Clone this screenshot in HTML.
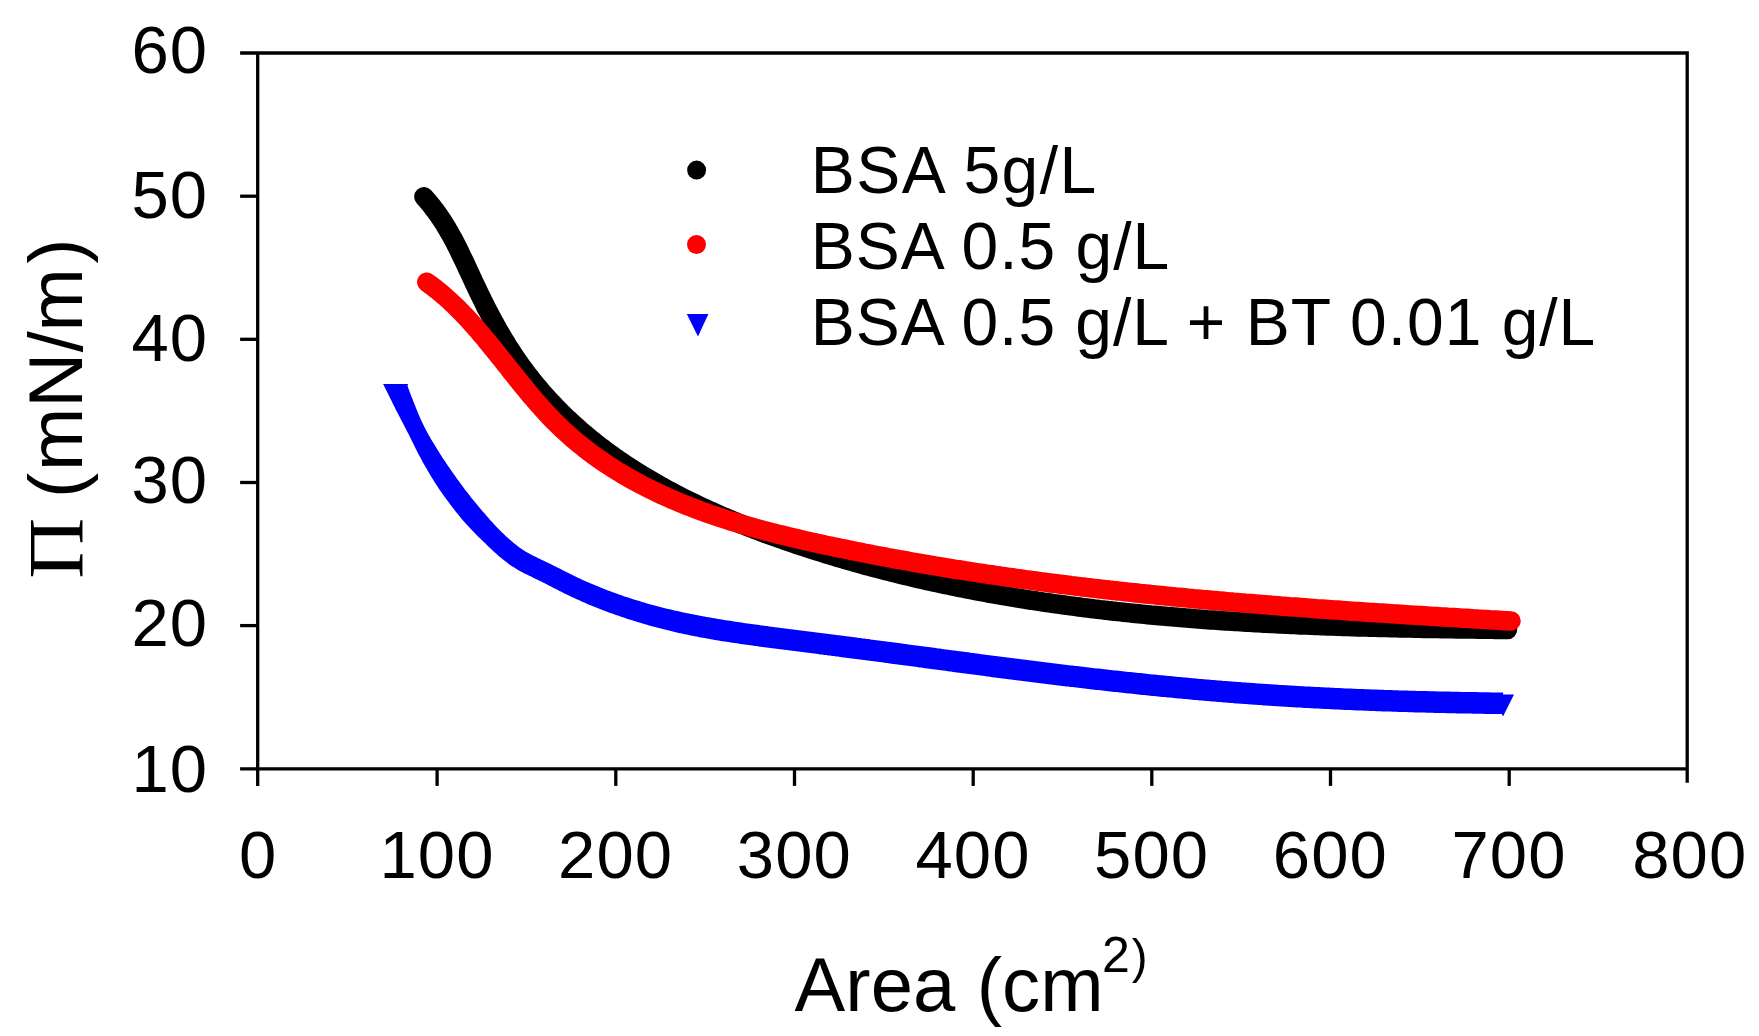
<!DOCTYPE html>
<html lang="en"><head><meta charset="utf-8"><title>Surface pressure vs area</title>
<style>html,body{margin:0;padding:0;background:#fff}body{width:1759px;height:1036px;overflow:hidden}svg{display:block}</style></head>
<body>
<svg width="1759" height="1036" viewBox="0 0 1759 1036">
<rect width="1759" height="1036" fill="#fff"/>
<filter id="soft" x="0" y="0" width="1759" height="1036" filterUnits="userSpaceOnUse"><feGaussianBlur stdDeviation="0.7"/></filter>
<g filter="url(#soft)">
<polyline points="423.9,196.8 425.9,199.0 427.9,201.3 429.8,203.6 431.7,205.9 433.5,208.3 435.3,210.7 437.1,213.1 438.8,215.6 440.5,218.1 442.2,220.6 443.8,223.1 445.4,225.6 446.9,228.2 448.5,230.8 450.0,233.4 451.4,236.0 452.9,238.6 454.3,241.3 455.7,243.9 457.0,246.6 458.4,249.3 459.7,252.0 461.0,254.7 462.3,257.4 463.6,260.1 464.9,262.8 466.2,265.5 467.4,268.3 468.7,271.0 470.0,273.7 471.2,276.4 472.5,279.2 473.7,281.9 475.0,284.6 476.3,287.3 477.6,290.0 478.9,292.7 480.2,295.4 481.5,298.1 482.8,300.8 484.2,303.5 485.5,306.2 486.9,308.9 488.3,311.5 489.7,314.2 491.1,316.8 492.5,319.5 493.9,322.1 495.4,324.7 496.8,327.4 498.3,330.0 499.8,332.6 501.3,335.2 502.8,337.7 504.4,340.3 506.0,342.9 507.5,345.4 509.1,348.0 510.8,350.5 512.4,353.0 514.0,355.5 515.7,358.0 517.4,360.5 519.1,362.9 520.9,365.4 522.6,367.8 524.4,370.2 526.2,372.6 528.0,375.0 529.9,377.4 531.7,379.7 533.6,382.1 535.5,384.4 537.4,386.7 539.4,389.0 541.3,391.3 543.3,393.6 545.3,395.8 547.3,398.0 549.3,400.2 551.4,402.4 553.4,404.6 555.5,406.8 557.6,408.9 559.7,411.1 561.8,413.2 564.0,415.3 566.1,417.4 568.3,419.4 570.5,421.5 572.7,423.5 575.0,425.5 577.2,427.5 579.4,429.5 581.7,431.5 584.0,433.4 586.3,435.3 588.6,437.3 590.9,439.2 593.3,441.0 595.6,442.9 598.0,444.8 600.3,446.6 602.7,448.4 605.1,450.2 607.5,452.0 610.0,453.8 612.4,455.5 614.9,457.3 617.3,459.0 619.8,460.7 622.3,462.4 624.7,464.1 627.2,465.7 629.8,467.4 632.3,469.0 634.8,470.6 637.3,472.2 639.9,473.8 642.4,475.4 645.0,476.9 647.6,478.5 650.2,480.0 652.8,481.5 655.4,483.0 658.0,484.5 660.6,486.0 663.2,487.4 665.8,488.9 668.5,490.3 671.1,491.7 673.8,493.1 676.4,494.5 679.1,495.9 681.8,497.3 684.4,498.6 687.1,500.0 689.8,501.3 692.5,502.6 695.2,503.9 697.9,505.2 700.6,506.5 703.4,507.8 706.1,509.0 708.8,510.3 711.5,511.5 714.3,512.7 717.0,513.9 719.8,515.1 722.5,516.3 725.3,517.5 728.1,518.7 730.8,519.9 733.6,521.0 736.4,522.1 739.1,523.3 741.9,524.4 744.7,525.5 747.5,526.6 750.3,527.7 753.1,528.8 755.9,529.9 758.7,530.9 761.5,532.0 764.3,533.0 767.2,534.1 770.0,535.1 772.8,536.1 775.6,537.1 778.4,538.1 781.3,539.1 784.1,540.1 786.9,541.1 789.8,542.1 792.6,543.0 795.5,544.0 798.3,545.0 801.2,545.9 804.0,546.8 806.9,547.8 809.7,548.7 812.6,549.6 815.4,550.5 818.3,551.4 821.2,552.3 824.0,553.2 826.9,554.1 829.8,555.0 832.6,555.8 835.5,556.7 838.4,557.6 841.3,558.4 844.2,559.3 847.0,560.1 849.9,560.9 852.8,561.7 855.7,562.6 858.6,563.4 861.5,564.2 864.4,565.0 867.3,565.8 870.2,566.5 873.1,567.3 876.0,568.1 878.9,568.8 881.8,569.6 884.7,570.4 887.6,571.1 890.5,571.8 893.4,572.6 896.3,573.3 899.2,574.0 902.1,574.7 905.1,575.4 908.0,576.1 910.9,576.8 913.8,577.5 916.7,578.2 919.7,578.9 922.6,579.5 925.5,580.2 928.4,580.9 931.4,581.5 934.3,582.2 937.2,582.8 940.2,583.4 943.1,584.1 946.0,584.7 949.0,585.3 951.9,585.9 954.9,586.5 957.8,587.1 960.7,587.7 963.7,588.3 966.6,588.9 969.6,589.4 972.5,590.0 975.5,590.6 978.4,591.1 981.4,591.7 984.3,592.2 987.3,592.8 990.2,593.3 993.2,593.8 996.1,594.4 999.1,594.9 1002.0,595.4 1005.0,595.9 1008.0,596.4 1010.9,596.9 1013.9,597.4 1016.8,597.9 1019.8,598.4 1022.8,598.9 1025.7,599.3 1028.7,599.8 1031.7,600.3 1034.6,600.7 1037.6,601.2 1040.6,601.6 1043.5,602.1 1046.5,602.5 1049.5,602.9 1052.4,603.4 1055.4,603.8 1058.4,604.2 1061.3,604.6 1064.3,605.0 1067.3,605.4 1070.3,605.8 1073.2,606.2 1076.2,606.6 1079.2,607.0 1082.2,607.4 1085.1,607.8 1088.1,608.1 1091.1,608.5 1094.1,608.9 1097.1,609.2 1100.0,609.6 1103.0,609.9 1106.0,610.3 1109.0,610.6 1112.0,611.0 1114.9,611.3 1117.9,611.6 1120.9,611.9 1123.9,612.3 1126.9,612.6 1129.9,612.9 1132.9,613.2 1135.8,613.5 1138.8,613.8 1141.8,614.1 1144.8,614.4 1147.8,614.7 1150.8,615.0 1153.8,615.2 1156.8,615.5 1159.7,615.8 1162.7,616.1 1165.7,616.3 1168.7,616.6 1171.7,616.8 1174.7,617.1 1177.7,617.3 1180.7,617.6 1183.7,617.8 1186.7,618.1 1189.6,618.3 1192.6,618.5 1195.6,618.8 1198.6,619.0 1201.6,619.2 1204.6,619.4 1207.6,619.7 1210.6,619.9 1213.6,620.1 1216.6,620.3 1219.6,620.5 1222.6,620.7 1225.6,620.9 1228.6,621.1 1231.6,621.3 1234.6,621.4 1237.5,621.6 1240.5,621.8 1243.5,622.0 1246.5,622.2 1249.5,622.3 1252.5,622.5 1255.5,622.7 1258.5,622.8 1261.5,623.0 1264.5,623.2 1267.5,623.3 1270.5,623.5 1273.5,623.6 1276.5,623.8 1279.5,623.9 1282.5,624.1 1285.5,624.2 1288.5,624.3 1291.5,624.5 1294.5,624.6 1297.5,624.7 1300.5,624.9 1303.5,625.0 1306.5,625.1 1309.5,625.2 1312.5,625.3 1315.5,625.5 1318.5,625.6 1321.5,625.7 1324.5,625.8 1327.5,625.9 1330.5,626.0 1333.5,626.1 1336.5,626.2 1339.5,626.3 1342.5,626.4 1345.5,626.5 1348.5,626.6 1351.5,626.7 1354.5,626.8 1357.5,626.9 1360.5,626.9 1363.5,627.0 1366.5,627.1 1369.5,627.2 1372.5,627.3 1375.5,627.3 1378.5,627.4 1381.5,627.5 1384.5,627.6 1387.5,627.6 1390.5,627.7 1393.5,627.8 1396.5,627.8 1399.5,627.9 1402.5,628.0 1405.5,628.0 1408.5,628.1 1411.5,628.1 1414.5,628.2 1417.5,628.3 1420.5,628.3 1423.5,628.4 1426.5,628.4 1429.5,628.5 1432.5,628.5 1435.5,628.6 1438.5,628.6 1441.5,628.7 1444.5,628.7 1447.5,628.8 1450.5,628.8 1453.5,628.8 1456.5,628.9 1459.5,628.9 1462.5,629.0 1465.5,629.0 1468.5,629.0 1471.5,629.1 1474.5,629.1 1477.5,629.2 1480.5,629.2 1483.5,629.2 1486.5,629.3 1489.5,629.3 1492.5,629.3 1495.5,629.4 1498.5,629.4 1501.5,629.4 1504.5,629.5 1507.5,629.5" fill="none" stroke="#000" stroke-width="19.5" stroke-linecap="round" stroke-linejoin="round"/>
<polyline points="426.8,282.2 429.2,284.0 431.6,285.7 434.0,287.6 436.4,289.4 438.7,291.3 441.0,293.2 443.3,295.2 445.6,297.1 447.8,299.1 450.0,301.1 452.2,303.2 454.4,305.3 456.6,307.4 458.7,309.5 460.8,311.6 462.9,313.8 465.0,315.9 467.0,318.1 469.0,320.3 471.1,322.5 473.1,324.8 475.1,327.0 477.0,329.3 479.0,331.5 480.9,333.8 482.9,336.1 484.8,338.4 486.7,340.7 488.6,343.0 490.5,345.4 492.4,347.7 494.3,350.0 496.2,352.4 498.1,354.7 499.9,357.1 501.8,359.4 503.7,361.7 505.5,364.1 507.4,366.4 509.3,368.8 511.1,371.2 513.0,373.5 514.9,375.8 516.7,378.2 518.6,380.5 520.5,382.9 522.4,385.2 524.3,387.5 526.2,389.8 528.1,392.2 530.0,394.5 532.0,396.8 533.9,399.0 535.9,401.3 537.8,403.6 539.8,405.8 541.8,408.1 543.8,410.3 545.8,412.5 547.9,414.7 549.9,416.9 552.0,419.0 554.1,421.2 556.3,423.3 558.4,425.4 560.6,427.5 562.7,429.6 564.9,431.6 567.2,433.6 569.4,435.6 571.6,437.6 573.9,439.6 576.2,441.5 578.5,443.4 580.8,445.3 583.2,447.2 585.5,449.0 587.9,450.9 590.3,452.7 592.7,454.5 595.1,456.2 597.6,458.0 600.0,459.7 602.5,461.4 605.0,463.1 607.5,464.8 610.0,466.4 612.5,468.0 615.0,469.6 617.6,471.2 620.2,472.8 622.7,474.3 625.3,475.9 627.9,477.4 630.5,478.8 633.1,480.3 635.8,481.8 638.4,483.2 641.1,484.6 643.7,486.0 646.4,487.3 649.1,488.7 651.8,490.0 654.5,491.3 657.2,492.6 659.9,493.9 662.6,495.2 665.3,496.4 668.1,497.6 670.8,498.8 673.6,500.0 676.3,501.2 679.1,502.4 681.9,503.5 684.7,504.6 687.4,505.7 690.2,506.8 693.0,507.9 695.8,509.0 698.7,510.0 701.5,511.1 704.3,512.1 707.1,513.1 709.9,514.1 712.8,515.1 715.6,516.0 718.5,517.0 721.3,517.9 724.2,518.9 727.0,519.8 729.9,520.7 732.8,521.6 735.6,522.4 738.5,523.3 741.4,524.2 744.2,525.0 747.1,525.9 750.0,526.7 752.9,527.5 755.8,528.3 758.7,529.1 761.6,529.9 764.5,530.7 767.4,531.4 770.3,532.2 773.2,532.9 776.1,533.7 779.0,534.4 781.9,535.1 784.8,535.8 787.7,536.5 790.7,537.3 793.6,537.9 796.5,538.6 799.4,539.3 802.4,540.0 805.3,540.7 808.2,541.3 811.1,542.0 814.1,542.6 817.0,543.3 819.9,543.9 822.9,544.5 825.8,545.2 828.7,545.8 831.7,546.4 834.6,547.0 837.5,547.6 840.5,548.2 843.4,548.8 846.4,549.4 849.3,550.0 852.2,550.6 855.2,551.2 858.1,551.8 861.1,552.4 864.0,553.0 866.9,553.5 869.9,554.1 872.8,554.7 875.8,555.3 878.7,555.8 881.7,556.4 884.6,556.9 887.6,557.5 890.5,558.0 893.5,558.6 896.4,559.1 899.4,559.7 902.3,560.2 905.3,560.7 908.2,561.2 911.2,561.8 914.2,562.3 917.1,562.8 920.1,563.3 923.0,563.8 926.0,564.3 928.9,564.9 931.9,565.4 934.9,565.9 937.8,566.3 940.8,566.8 943.7,567.3 946.7,567.8 949.7,568.3 952.6,568.8 955.6,569.3 958.5,569.7 961.5,570.2 964.5,570.7 967.4,571.1 970.4,571.6 973.4,572.0 976.3,572.5 979.3,573.0 982.3,573.4 985.2,573.9 988.2,574.3 991.2,574.7 994.1,575.2 997.1,575.6 1000.1,576.0 1003.0,576.5 1006.0,576.9 1009.0,577.3 1011.9,577.7 1014.9,578.2 1017.9,578.6 1020.9,579.0 1023.8,579.4 1026.8,579.8 1029.8,580.2 1032.8,580.6 1035.7,581.0 1038.7,581.4 1041.7,581.8 1044.7,582.2 1047.6,582.6 1050.6,583.0 1053.6,583.3 1056.6,583.7 1059.5,584.1 1062.5,584.5 1065.5,584.8 1068.5,585.2 1071.4,585.6 1074.4,585.9 1077.4,586.3 1080.4,586.7 1083.4,587.0 1086.3,587.4 1089.3,587.7 1092.3,588.1 1095.3,588.4 1098.3,588.8 1101.2,589.1 1104.2,589.5 1107.2,589.8 1110.2,590.1 1113.2,590.5 1116.1,590.8 1119.1,591.1 1122.1,591.4 1125.1,591.8 1128.1,592.1 1131.1,592.4 1134.0,592.7 1137.0,593.0 1140.0,593.4 1143.0,593.7 1146.0,594.0 1149.0,594.3 1151.9,594.6 1154.9,594.9 1157.9,595.2 1160.9,595.5 1163.9,595.8 1166.9,596.1 1169.9,596.4 1172.8,596.7 1175.8,597.0 1178.8,597.2 1181.8,597.5 1184.8,597.8 1187.8,598.1 1190.8,598.4 1193.8,598.7 1196.7,598.9 1199.7,599.2 1202.7,599.5 1205.7,599.7 1208.7,600.0 1211.7,600.3 1214.7,600.5 1217.7,600.8 1220.7,601.1 1223.6,601.3 1226.6,601.6 1229.6,601.9 1232.6,602.1 1235.6,602.4 1238.6,602.6 1241.6,602.9 1244.6,603.1 1247.6,603.4 1250.6,603.6 1253.5,603.8 1256.5,604.1 1259.5,604.3 1262.5,604.6 1265.5,604.8 1268.5,605.0 1271.5,605.3 1274.5,605.5 1277.5,605.7 1280.5,606.0 1283.5,606.2 1286.4,606.4 1289.4,606.7 1292.4,606.9 1295.4,607.1 1298.4,607.3 1301.4,607.6 1304.4,607.8 1307.4,608.0 1310.4,608.2 1313.4,608.4 1316.4,608.7 1319.4,608.9 1322.4,609.1 1325.3,609.3 1328.3,609.5 1331.3,609.7 1334.3,609.9 1337.3,610.1 1340.3,610.3 1343.3,610.6 1346.3,610.8 1349.3,611.0 1352.3,611.2 1355.3,611.4 1358.3,611.6 1361.3,611.8 1364.3,612.0 1367.3,612.2 1370.2,612.4 1373.2,612.6 1376.2,612.8 1379.2,613.0 1382.2,613.1 1385.2,613.3 1388.2,613.5 1391.2,613.7 1394.2,613.9 1397.2,614.1 1400.2,614.3 1403.2,614.5 1406.2,614.7 1409.2,614.9 1412.2,615.1 1415.2,615.2 1418.2,615.4 1421.1,615.6 1424.1,615.8 1427.1,616.0 1430.1,616.2 1433.1,616.4 1436.1,616.5 1439.1,616.7 1442.1,616.9 1445.1,617.1 1448.1,617.3 1451.1,617.4 1454.1,617.6 1457.1,617.8 1460.1,618.0 1463.1,618.2 1466.1,618.3 1469.1,618.5 1472.1,618.7 1475.1,618.9 1478.1,619.1 1481.0,619.2 1484.0,619.4 1487.0,619.6 1490.0,619.8 1493.0,619.9 1496.0,620.1 1499.0,620.3 1502.0,620.5 1505.0,620.7 1508.0,620.8 1511.0,621.0" fill="none" stroke="#ff0000" stroke-width="19.5" stroke-linecap="round" stroke-linejoin="round"/>
<clipPath id="bc"><rect x="300" y="384.1" width="1300" height="400"/></clipPath>
<polygon clip-path="url(#bc)" fill="#0000ff" points="401.1,370.0 401.9,371.9 402.7,373.7 403.4,375.5 404.2,377.4 404.9,379.2 405.7,381.0 406.4,382.9 407.1,384.8 407.8,386.6 408.4,388.5 409.1,390.3 409.8,392.2 410.5,394.1 411.2,395.9 412.0,397.8 412.7,399.6 413.4,401.4 414.1,403.3 414.8,405.1 415.6,407.0 416.3,408.8 417.0,410.6 417.8,412.5 418.5,414.3 419.3,416.1 420.1,417.9 420.9,419.7 421.8,421.5 422.6,423.3 423.5,425.0 424.3,426.8 425.2,428.6 426.1,430.3 427.0,432.1 428.0,433.8 429.0,435.5 430.0,437.2 430.9,438.9 431.9,440.6 432.9,442.3 434.0,443.9 435.0,445.6 436.0,447.3 437.0,449.0 438.0,450.6 439.1,452.3 440.1,453.9 441.2,455.6 442.2,457.2 443.3,458.9 444.4,460.5 445.5,462.1 446.6,463.8 447.7,465.4 448.8,467.0 449.9,468.6 451.0,470.2 452.1,471.8 453.3,473.4 454.4,475.0 455.5,476.6 456.6,478.2 457.8,479.8 458.9,481.3 460.1,482.9 461.2,484.5 462.4,486.1 463.5,487.6 464.7,489.2 465.9,490.7 467.1,492.3 468.3,493.8 469.5,495.3 470.7,496.9 471.9,498.4 473.2,499.9 474.4,501.4 475.7,502.9 476.9,504.4 478.2,505.9 479.4,507.4 480.6,508.9 481.9,510.4 483.1,511.9 484.4,513.3 485.7,514.8 486.9,516.3 488.2,517.7 489.5,519.2 490.8,520.7 492.1,522.1 493.4,523.5 494.8,525.0 496.1,526.4 497.4,527.8 498.8,529.2 500.1,530.6 501.5,532.0 502.9,533.3 504.3,534.6 505.7,536.0 507.1,537.3 508.6,538.5 510.0,539.8 511.4,541.0 512.9,542.3 514.3,543.5 515.7,544.6 517.2,545.7 518.7,546.9 520.2,547.9 521.7,549.0 523.2,550.0 524.7,551.0 526.2,551.9 527.8,552.8 529.4,553.7 531.0,554.6 532.6,555.4 534.3,556.3 536.1,557.1 537.8,558.0 539.6,558.8 541.4,559.7 543.2,560.5 545.1,561.4 546.9,562.3 548.7,563.2 550.6,564.1 552.4,565.0 554.2,565.9 556.0,566.8 557.8,567.7 559.6,568.6 561.4,569.5 563.2,570.4 564.9,571.3 566.7,572.2 568.5,573.1 570.2,574.0 572.0,574.8 573.8,575.7 575.5,576.6 577.3,577.4 579.1,578.2 580.8,579.0 582.6,579.9 584.4,580.7 586.2,581.5 588.0,582.3 589.8,583.0 591.5,583.8 593.3,584.6 595.2,585.3 597.0,586.1 598.8,586.8 600.6,587.6 602.4,588.3 604.2,589.0 606.1,589.7 607.9,590.4 609.7,591.1 611.5,591.8 613.4,592.5 615.2,593.1 617.1,593.8 618.9,594.5 620.8,595.1 622.6,595.8 624.5,596.4 626.3,597.0 628.2,597.6 630.1,598.2 631.9,598.8 633.8,599.4 635.7,600.0 637.6,600.6 639.4,601.1 641.3,601.7 643.2,602.3 645.1,602.8 647.0,603.4 648.9,603.9 650.7,604.4 652.6,604.9 654.5,605.5 656.4,606.0 658.3,606.5 660.2,607.0 662.1,607.4 664.0,607.9 666.0,608.4 667.9,608.9 669.8,609.3 671.7,609.8 673.6,610.2 675.5,610.7 677.4,611.1 679.4,611.5 681.3,611.9 683.2,612.4 685.1,612.8 687.1,613.2 689.0,613.6 690.9,614.0 692.8,614.3 694.8,614.7 696.7,615.1 698.7,615.5 700.6,615.8 702.5,616.2 704.5,616.5 706.4,616.9 708.4,617.3 710.3,617.6 712.3,617.9 714.2,618.3 716.1,618.6 718.1,618.9 720.1,619.3 722.0,619.6 724.0,619.9 725.9,620.2 727.9,620.5 729.8,620.8 731.8,621.1 733.8,621.4 735.7,621.7 737.7,622.0 739.6,622.3 741.6,622.6 743.6,622.9 745.5,623.2 747.5,623.5 749.5,623.7 751.5,624.0 753.4,624.3 755.4,624.6 757.4,624.8 759.3,625.1 761.3,625.4 763.3,625.6 765.3,625.9 767.2,626.1 769.2,626.4 771.2,626.7 773.2,626.9 775.2,627.2 777.2,627.4 779.1,627.7 781.1,627.9 783.1,628.2 785.1,628.5 787.1,628.7 789.1,629.0 791.0,629.2 793.0,629.5 795.0,629.7 797.0,630.0 799.0,630.2 801.0,630.5 802.9,630.7 804.9,631.0 806.9,631.2 808.9,631.5 810.9,631.7 812.9,632.0 814.9,632.3 816.8,632.5 818.8,632.8 820.8,633.0 822.8,633.3 824.8,633.5 826.8,633.8 828.8,634.0 830.8,634.3 832.7,634.5 834.7,634.8 836.7,635.0 838.7,635.3 840.7,635.5 842.7,635.8 844.7,636.1 846.7,636.3 848.6,636.6 850.6,636.8 852.6,637.1 854.6,637.3 856.6,637.6 858.6,637.9 860.6,638.1 862.6,638.4 864.5,638.6 866.5,638.9 868.5,639.1 870.5,639.4 872.5,639.7 874.5,639.9 876.5,640.2 878.5,640.5 880.4,640.7 882.4,641.0 884.4,641.2 886.4,641.5 888.4,641.8 890.4,642.0 892.4,642.3 894.3,642.6 896.3,642.8 898.3,643.1 900.3,643.3 902.3,643.6 904.3,643.9 906.3,644.1 908.2,644.4 910.2,644.7 912.2,644.9 914.2,645.2 916.2,645.5 918.2,645.7 920.1,646.0 922.1,646.3 924.1,646.5 926.1,646.8 928.1,647.1 930.1,647.3 932.1,647.6 934.0,647.8 936.0,648.1 938.0,648.4 940.0,648.6 942.0,648.9 944.0,649.2 945.9,649.4 947.9,649.7 949.9,650.0 951.9,650.2 953.9,650.5 955.9,650.8 957.8,651.0 959.8,651.3 961.8,651.5 963.8,651.8 965.8,652.1 967.8,652.3 969.7,652.6 971.7,652.9 973.7,653.1 975.7,653.4 977.7,653.6 979.7,653.9 981.6,654.2 983.6,654.4 985.6,654.7 987.6,654.9 989.6,655.2 991.6,655.5 993.5,655.7 995.5,656.0 997.5,656.2 999.5,656.5 1001.5,656.8 1003.5,657.0 1005.4,657.3 1007.4,657.5 1009.4,657.8 1011.4,658.0 1013.4,658.3 1015.4,658.5 1017.3,658.8 1019.3,659.0 1021.3,659.3 1023.3,659.6 1025.3,659.8 1027.3,660.1 1029.2,660.3 1031.2,660.6 1033.2,660.8 1035.2,661.0 1037.2,661.3 1039.2,661.5 1041.1,661.8 1043.1,662.0 1045.1,662.3 1047.1,662.5 1049.1,662.8 1051.1,663.0 1053.0,663.3 1055.0,663.5 1057.0,663.7 1059.0,664.0 1061.0,664.2 1063.0,664.5 1065.0,664.7 1066.9,664.9 1068.9,665.2 1070.9,665.4 1072.9,665.6 1074.9,665.9 1076.9,666.1 1078.8,666.3 1080.8,666.6 1082.8,666.8 1084.8,667.0 1086.8,667.3 1088.8,667.5 1090.7,667.7 1092.7,667.9 1094.7,668.2 1096.7,668.4 1098.7,668.6 1100.7,668.8 1102.7,669.1 1104.6,669.3 1106.6,669.5 1108.6,669.7 1110.6,670.0 1112.6,670.2 1114.6,670.4 1116.6,670.6 1118.5,670.8 1120.5,671.0 1122.5,671.3 1124.5,671.5 1126.5,671.7 1128.5,671.9 1130.5,672.1 1132.4,672.3 1134.4,672.5 1136.4,672.7 1138.4,672.9 1140.4,673.1 1142.4,673.3 1144.4,673.6 1146.3,673.8 1148.3,674.0 1150.3,674.2 1152.3,674.4 1154.3,674.6 1156.3,674.8 1158.3,675.0 1160.3,675.2 1162.2,675.3 1164.2,675.5 1166.2,675.7 1168.2,675.9 1170.2,676.1 1172.2,676.3 1174.2,676.5 1176.2,676.7 1178.1,676.9 1180.1,677.1 1182.1,677.2 1184.1,677.4 1186.1,677.6 1188.1,677.8 1190.1,678.0 1192.1,678.2 1194.0,678.3 1196.0,678.5 1198.0,678.7 1200.0,678.9 1202.0,679.0 1204.0,679.2 1206.0,679.4 1208.0,679.5 1210.0,679.7 1211.9,679.9 1213.9,680.1 1215.9,680.2 1217.9,680.4 1219.9,680.5 1221.9,680.7 1223.9,680.9 1225.9,681.0 1227.9,681.2 1229.8,681.3 1231.8,681.5 1233.8,681.7 1235.8,681.8 1237.8,682.0 1239.8,682.1 1241.8,682.3 1243.8,682.4 1245.8,682.6 1247.7,682.7 1249.7,682.8 1251.7,683.0 1253.7,683.1 1255.7,683.3 1257.7,683.4 1259.7,683.5 1261.7,683.7 1263.7,683.8 1265.7,684.0 1267.6,684.1 1269.6,684.2 1271.6,684.3 1273.6,684.5 1275.6,684.6 1277.6,684.7 1279.6,684.9 1281.6,685.0 1283.6,685.1 1285.6,685.2 1287.6,685.3 1289.6,685.5 1291.5,685.6 1293.5,685.7 1295.5,685.8 1297.5,685.9 1299.5,686.0 1301.5,686.2 1303.5,686.3 1305.5,686.4 1307.5,686.5 1309.5,686.6 1311.5,686.7 1313.5,686.8 1315.5,686.9 1317.5,687.0 1319.4,687.1 1321.4,687.2 1323.4,687.3 1325.4,687.4 1327.4,687.5 1329.4,687.6 1331.4,687.7 1333.4,687.8 1335.4,687.9 1337.4,688.0 1339.4,688.1 1341.4,688.2 1343.4,688.3 1345.4,688.4 1347.4,688.4 1349.4,688.5 1351.4,688.6 1353.4,688.7 1355.3,688.8 1357.3,688.9 1359.3,688.9 1361.3,689.0 1363.3,689.1 1365.3,689.2 1367.3,689.3 1369.3,689.3 1371.3,689.4 1373.3,689.5 1375.3,689.6 1377.3,689.6 1379.3,689.7 1381.3,689.8 1383.3,689.8 1385.3,689.9 1387.3,690.0 1389.3,690.0 1391.3,690.1 1393.3,690.2 1395.3,690.2 1397.3,690.3 1399.3,690.4 1401.2,690.4 1403.2,690.5 1405.2,690.5 1407.2,690.6 1409.2,690.7 1411.2,690.7 1413.2,690.8 1415.2,690.8 1417.2,690.9 1419.2,690.9 1421.2,691.0 1423.2,691.0 1425.2,691.1 1427.2,691.1 1429.2,691.2 1431.2,691.2 1433.2,691.3 1435.2,691.3 1437.2,691.4 1439.2,691.4 1441.2,691.5 1443.2,691.5 1445.2,691.6 1447.2,691.6 1449.2,691.6 1451.2,691.7 1453.2,691.7 1455.2,691.8 1457.2,691.8 1459.2,691.8 1461.2,691.9 1463.2,691.9 1465.2,691.9 1467.2,692.0 1469.2,692.0 1471.2,692.1 1473.2,692.1 1475.1,692.1 1477.1,692.1 1479.1,692.2 1481.1,692.2 1483.1,692.2 1485.1,692.3 1487.1,692.3 1489.1,692.3 1491.1,692.4 1493.1,692.4 1495.1,692.4 1497.1,692.4 1499.1,692.5 1501.1,692.5 1503.1,692.5 1502.9,714.1 1500.9,714.1 1498.9,714.1 1496.9,714.0 1494.9,714.0 1492.8,714.0 1490.8,713.9 1488.8,713.9 1486.8,713.9 1484.8,713.9 1482.8,713.8 1480.8,713.8 1478.8,713.8 1476.8,713.7 1474.8,713.7 1472.8,713.7 1470.8,713.6 1468.8,713.6 1466.8,713.6 1464.8,713.5 1462.8,713.5 1460.8,713.5 1458.8,713.4 1456.7,713.4 1454.7,713.3 1452.7,713.3 1450.7,713.3 1448.7,713.2 1446.7,713.2 1444.7,713.1 1442.7,713.1 1440.7,713.0 1438.7,713.0 1436.7,712.9 1434.7,712.9 1432.7,712.8 1430.7,712.8 1428.7,712.7 1426.7,712.7 1424.7,712.6 1422.6,712.6 1420.6,712.5 1418.6,712.5 1416.6,712.4 1414.6,712.4 1412.6,712.3 1410.6,712.3 1408.6,712.2 1406.6,712.1 1404.6,712.1 1402.6,712.0 1400.6,712.0 1398.6,711.9 1396.6,711.8 1394.6,711.8 1392.6,711.7 1390.6,711.6 1388.5,711.6 1386.5,711.5 1384.5,711.4 1382.5,711.4 1380.5,711.3 1378.5,711.2 1376.5,711.2 1374.5,711.1 1372.5,711.0 1370.5,710.9 1368.5,710.8 1366.5,710.8 1364.5,710.7 1362.5,710.6 1360.5,710.5 1358.5,710.5 1356.5,710.4 1354.4,710.3 1352.4,710.2 1350.4,710.1 1348.4,710.0 1346.4,709.9 1344.4,709.9 1342.4,709.8 1340.4,709.7 1338.4,709.6 1336.4,709.5 1334.4,709.4 1332.4,709.3 1330.4,709.2 1328.4,709.1 1326.4,709.0 1324.4,708.9 1322.4,708.8 1320.4,708.7 1318.3,708.6 1316.3,708.5 1314.3,708.4 1312.3,708.3 1310.3,708.2 1308.3,708.1 1306.3,708.0 1304.3,707.9 1302.3,707.7 1300.3,707.6 1298.3,707.5 1296.3,707.4 1294.3,707.3 1292.3,707.2 1290.3,707.0 1288.3,706.9 1286.3,706.8 1284.3,706.7 1282.3,706.6 1280.3,706.4 1278.2,706.3 1276.2,706.2 1274.2,706.1 1272.2,705.9 1270.2,705.8 1268.2,705.7 1266.2,705.5 1264.2,705.4 1262.2,705.3 1260.2,705.1 1258.2,705.0 1256.2,704.8 1254.2,704.7 1252.2,704.6 1250.2,704.4 1248.2,704.3 1246.2,704.1 1244.2,704.0 1242.2,703.8 1240.2,703.7 1238.2,703.5 1236.2,703.4 1234.2,703.2 1232.2,703.1 1230.2,702.9 1228.2,702.7 1226.1,702.6 1224.1,702.4 1222.1,702.3 1220.1,702.1 1218.1,701.9 1216.1,701.8 1214.1,701.6 1212.1,701.4 1210.1,701.3 1208.1,701.1 1206.1,700.9 1204.1,700.8 1202.1,700.6 1200.1,700.4 1198.1,700.2 1196.1,700.1 1194.1,699.9 1192.1,699.7 1190.1,699.5 1188.1,699.3 1186.1,699.1 1184.1,699.0 1182.1,698.8 1180.1,698.6 1178.1,698.4 1176.1,698.2 1174.1,698.0 1172.1,697.8 1170.1,697.6 1168.1,697.5 1166.1,697.3 1164.1,697.1 1162.1,696.9 1160.1,696.7 1158.1,696.5 1156.1,696.3 1154.2,696.1 1152.2,695.9 1150.2,695.7 1148.2,695.5 1146.2,695.3 1144.2,695.1 1142.2,694.9 1140.2,694.7 1138.2,694.4 1136.2,694.2 1134.2,694.0 1132.2,693.8 1130.2,693.6 1128.2,693.4 1126.2,693.2 1124.2,693.0 1122.2,692.8 1120.2,692.5 1118.2,692.3 1116.2,692.1 1114.2,691.9 1112.2,691.7 1110.2,691.4 1108.2,691.2 1106.2,691.0 1104.3,690.8 1102.3,690.6 1100.3,690.3 1098.3,690.1 1096.3,689.9 1094.3,689.7 1092.3,689.4 1090.3,689.2 1088.3,689.0 1086.3,688.7 1084.3,688.5 1082.3,688.3 1080.3,688.0 1078.3,687.8 1076.3,687.6 1074.4,687.3 1072.4,687.1 1070.4,686.9 1068.4,686.6 1066.4,686.4 1064.4,686.2 1062.4,685.9 1060.4,685.7 1058.4,685.4 1056.4,685.2 1054.4,685.0 1052.4,684.7 1050.5,684.5 1048.5,684.2 1046.5,684.0 1044.5,683.7 1042.5,683.5 1040.5,683.2 1038.5,683.0 1036.5,682.7 1034.5,682.5 1032.5,682.2 1030.6,682.0 1028.6,681.7 1026.6,681.5 1024.6,681.2 1022.6,681.0 1020.6,680.7 1018.6,680.5 1016.6,680.2 1014.6,680.0 1012.7,679.7 1010.7,679.5 1008.7,679.2 1006.7,679.0 1004.7,678.7 1002.7,678.4 1000.7,678.2 998.7,677.9 996.7,677.7 994.8,677.4 992.8,677.2 990.8,676.9 988.8,676.6 986.8,676.4 984.8,676.1 982.8,675.8 980.8,675.6 978.9,675.3 976.9,675.1 974.9,674.8 972.9,674.5 970.9,674.3 968.9,674.0 966.9,673.7 965.0,673.5 963.0,673.2 961.0,673.0 959.0,672.7 957.0,672.4 955.0,672.2 953.0,671.9 951.1,671.6 949.1,671.4 947.1,671.1 945.1,670.8 943.1,670.6 941.1,670.3 939.1,670.0 937.2,669.8 935.2,669.5 933.2,669.2 931.2,669.0 929.2,668.7 927.2,668.4 925.3,668.2 923.3,667.9 921.3,667.6 919.3,667.4 917.3,667.1 915.3,666.8 913.4,666.6 911.4,666.3 909.4,666.0 907.4,665.8 905.4,665.5 903.4,665.3 901.4,665.0 899.5,664.7 897.5,664.5 895.5,664.2 893.5,663.9 891.5,663.7 889.5,663.4 887.6,663.1 885.6,662.9 883.6,662.6 881.6,662.3 879.6,662.1 877.6,661.8 875.7,661.6 873.7,661.3 871.7,661.0 869.7,660.8 867.7,660.5 865.7,660.3 863.8,660.0 861.8,659.7 859.8,659.5 857.8,659.2 855.8,659.0 853.8,658.7 851.9,658.4 849.9,658.2 847.9,657.9 845.9,657.7 843.9,657.4 841.9,657.2 840.0,656.9 838.0,656.6 836.0,656.4 834.0,656.1 832.0,655.9 830.0,655.6 828.1,655.4 826.1,655.1 824.1,654.9 822.1,654.6 820.1,654.4 818.1,654.1 816.1,653.8 814.2,653.6 812.2,653.3 810.2,653.1 808.2,652.8 806.2,652.6 804.2,652.3 802.2,652.1 800.3,651.8 798.3,651.6 796.3,651.3 794.3,651.1 792.3,650.8 790.3,650.5 788.3,650.3 786.3,650.0 784.4,649.8 782.4,649.5 780.4,649.3 778.4,649.0 776.4,648.8 774.4,648.5 772.4,648.2 770.4,648.0 768.5,647.7 766.5,647.5 764.5,647.2 762.5,646.9 760.5,646.7 758.5,646.4 756.5,646.1 754.5,645.9 752.5,645.6 750.5,645.3 748.5,645.0 746.5,644.8 744.5,644.5 742.5,644.2 740.5,643.9 738.5,643.6 736.6,643.3 734.6,643.0 732.6,642.7 730.6,642.4 728.6,642.1 726.6,641.8 724.6,641.5 722.6,641.2 720.6,640.9 718.6,640.5 716.6,640.2 714.6,639.9 712.6,639.5 710.6,639.2 708.6,638.8 706.6,638.5 704.6,638.1 702.6,637.8 700.6,637.4 698.6,637.0 696.6,636.6 694.6,636.2 692.6,635.8 690.6,635.4 688.6,635.0 686.7,634.6 684.7,634.2 682.7,633.7 680.7,633.3 678.7,632.9 676.7,632.4 674.7,631.9 672.7,631.5 670.8,631.0 668.8,630.5 666.8,630.0 664.8,629.6 662.8,629.1 660.9,628.6 658.9,628.0 656.9,627.5 655.0,627.0 653.0,626.5 651.0,625.9 649.1,625.4 647.1,624.8 645.1,624.3 643.2,623.7 641.2,623.1 639.3,622.5 637.3,621.9 635.4,621.3 633.4,620.7 631.5,620.1 629.5,619.5 627.6,618.9 625.6,618.2 623.7,617.6 621.8,616.9 619.8,616.3 617.9,615.6 616.0,614.9 614.0,614.2 612.1,613.6 610.2,612.9 608.3,612.2 606.4,611.5 604.4,610.7 602.5,610.0 600.6,609.3 598.7,608.5 596.8,607.8 594.9,607.0 593.0,606.2 591.1,605.5 589.2,604.7 587.3,603.9 585.5,603.1 583.6,602.3 581.7,601.4 579.8,600.6 578.0,599.8 576.1,598.9 574.2,598.1 572.4,597.2 570.5,596.3 568.7,595.4 566.8,594.6 565.0,593.7 563.2,592.7 561.3,591.8 559.5,590.9 557.7,590.0 555.9,589.1 554.1,588.2 552.3,587.2 550.6,586.3 548.8,585.4 547.0,584.5 545.2,583.6 543.5,582.7 541.7,581.8 540.0,581.0 538.2,580.1 536.4,579.2 534.7,578.4 532.9,577.5 531.1,576.6 529.2,575.8 527.4,574.8 525.5,573.9 523.6,573.0 521.8,572.0 519.9,570.9 518.0,569.9 516.1,568.7 514.2,567.6 512.3,566.4 510.5,565.2 508.7,563.9 507.0,562.6 505.3,561.3 503.6,560.0 501.9,558.6 500.3,557.3 498.6,555.9 497.1,554.5 495.5,553.1 493.9,551.7 492.4,550.3 490.9,548.8 489.4,547.4 487.9,546.0 486.4,544.6 485.0,543.1 483.5,541.7 482.0,540.3 480.5,538.8 479.0,537.4 477.6,535.9 476.1,534.5 474.7,533.0 473.3,531.5 471.8,530.0 470.4,528.5 469.0,527.0 467.6,525.5 466.2,524.0 464.9,522.5 463.5,520.9 462.1,519.4 460.8,517.8 459.5,516.2 458.2,514.6 456.9,513.0 455.6,511.4 454.4,509.8 453.1,508.2 451.9,506.6 450.6,504.9 449.4,503.3 448.1,501.6 446.9,500.0 445.7,498.3 444.5,496.7 443.3,495.0 442.1,493.3 440.9,491.6 439.8,489.9 438.6,488.3 437.5,486.6 436.3,484.8 435.2,483.1 434.1,481.4 433.1,479.6 432.0,477.9 430.9,476.1 429.9,474.4 428.8,472.6 427.8,470.8 426.8,469.1 425.7,467.3 424.7,465.5 423.7,463.7 422.7,461.9 421.7,460.1 420.8,458.3 419.8,456.5 418.8,454.7 417.9,452.9 416.9,451.1 416.0,449.3 415.1,447.4 414.2,445.6 413.3,443.8 412.4,441.9 411.5,440.1 410.6,438.3 409.7,436.5 408.8,434.6 407.8,432.8 406.9,431.0 406.0,429.2 405.1,427.4 404.1,425.6 403.2,423.8 402.3,422.0 401.3,420.2 400.4,418.4 399.4,416.6 398.5,414.8 397.6,413.0 396.6,411.2 395.7,409.4 394.8,407.5 393.9,405.7 393.0,403.9 392.1,402.1 391.2,400.3 390.3,398.5 389.4,396.6 388.5,394.8 387.7,393.0 386.8,391.2 385.9,389.4 385.1,387.5 384.3,385.6 383.6,383.8 382.8,381.9 382.0,380.0 381.3,378.2"/>
<path d="M383.1,384.1 L408.2,384.1 L395.6,406.5 Z M1491.5,694.6 L1514,694.6 L1503,716.6 Z" fill="#0000ff"/>
<g stroke="#000" stroke-width="3.3" fill="none" stroke-linecap="butt">
<path d="M240.1,53.0 H1688.8500000000001 M240.1,768.8 H1688.8500000000001 M257.7,53.0 V785.9 M1687.2,53.0 V782.8"/>
<path d="M240.1,625.6 H257.7"/>
<path d="M240.1,482.5 H257.7"/>
<path d="M240.1,339.3 H257.7"/>
<path d="M240.1,196.2 H257.7"/>
<path d="M437.1,768.8 V785.9"/>
<path d="M615.8,768.8 V785.9"/>
<path d="M794.5,768.8 V785.9"/>
<path d="M973.2,768.8 V785.9"/>
<path d="M1151.8,768.8 V785.9"/>
<path d="M1330.5,768.8 V785.9"/>
<path d="M1509.2,768.8 V785.9"/>
</g>
<g font-family="'Liberation Sans', Arial, sans-serif" font-size="67" fill="#000">
<text class="yt" x="207" y="792.0" text-anchor="end" textLength="75.5" lengthAdjust="spacing">10</text>
<text class="yt" x="207" y="645.8" text-anchor="end" textLength="75.5" lengthAdjust="spacing">20</text>
<text class="yt" x="207" y="503.4" text-anchor="end" textLength="75.5" lengthAdjust="spacing">30</text>
<text class="yt" x="207" y="360.8" text-anchor="end" textLength="75.5" lengthAdjust="spacing">40</text>
<text class="yt" x="207" y="218.0" text-anchor="end" textLength="75.5" lengthAdjust="spacing">50</text>
<text class="yt" x="207" y="72.8" text-anchor="end" textLength="75.5" lengthAdjust="spacing">60</text>
<text class="xt" x="257.7" y="877.8" text-anchor="middle" textLength="37" lengthAdjust="spacing">0</text>
<text class="xt" x="436.4" y="877.8" text-anchor="middle" textLength="114" lengthAdjust="spacing">100</text>
<text class="xt" x="615.1" y="877.8" text-anchor="middle" textLength="114" lengthAdjust="spacing">200</text>
<text class="xt" x="793.8" y="877.8" text-anchor="middle" textLength="114" lengthAdjust="spacing">300</text>
<text class="xt" x="972.5" y="877.8" text-anchor="middle" textLength="114" lengthAdjust="spacing">400</text>
<text class="xt" x="1151.1" y="877.8" text-anchor="middle" textLength="114" lengthAdjust="spacing">500</text>
<text class="xt" x="1329.8" y="877.8" text-anchor="middle" textLength="114" lengthAdjust="spacing">600</text>
<text class="xt" x="1508.5" y="877.8" text-anchor="middle" textLength="114" lengthAdjust="spacing">700</text>
<text class="xt" x="1689.2" y="877.8" text-anchor="middle" textLength="114" lengthAdjust="spacing">800</text>
<text class="lg" font-size="66" transform="translate(810.8,193.2) scale(1,1.022)" textLength="285.5" lengthAdjust="spacing">BSA 5g/L</text>
<text class="lg" font-size="66" transform="translate(810.8,269.2) scale(1,1.022)" textLength="358.5" lengthAdjust="spacing">BSA 0.5 g/L</text>
<text class="lg" font-size="66" transform="translate(810.8,345.2) scale(1,1.022)" textLength="784.5" lengthAdjust="spacing">BSA 0.5 g/L + BT 0.01 g/L</text>
</g>
<circle cx="696.6" cy="170.1" r="9.5" fill="#000"/>
<circle cx="696.5" cy="244.5" r="9.5" fill="#ff0000"/>
<path d="M686.8,314 L708.4,314 L698,336.5 Z" fill="#0000ff"/>
<g font-family="'Liberation Sans', Arial, sans-serif" font-size="76" fill="#000">
<text id="xl" x="794.5" y="1010.7" textLength="309" lengthAdjust="spacing">Area (cm</text>
<text id="xs" x="1102" y="972" font-size="50">2<tspan font-size="47.5" dx="2" dy="1">)</tspan></text>
<text id="ypi" transform="translate(82,578.8) rotate(-90) scale(1.09,1)" font-family="'Liberation Serif', 'Times New Roman', serif" font-size="77.5">Π</text>
<text id="yl" transform="translate(82,496.5) rotate(-90)" x="-1.45 25.51 88.77 144.33 165.03 232.74">(mN/m)</text>
</g>
</g>
</svg>
</body></html>
